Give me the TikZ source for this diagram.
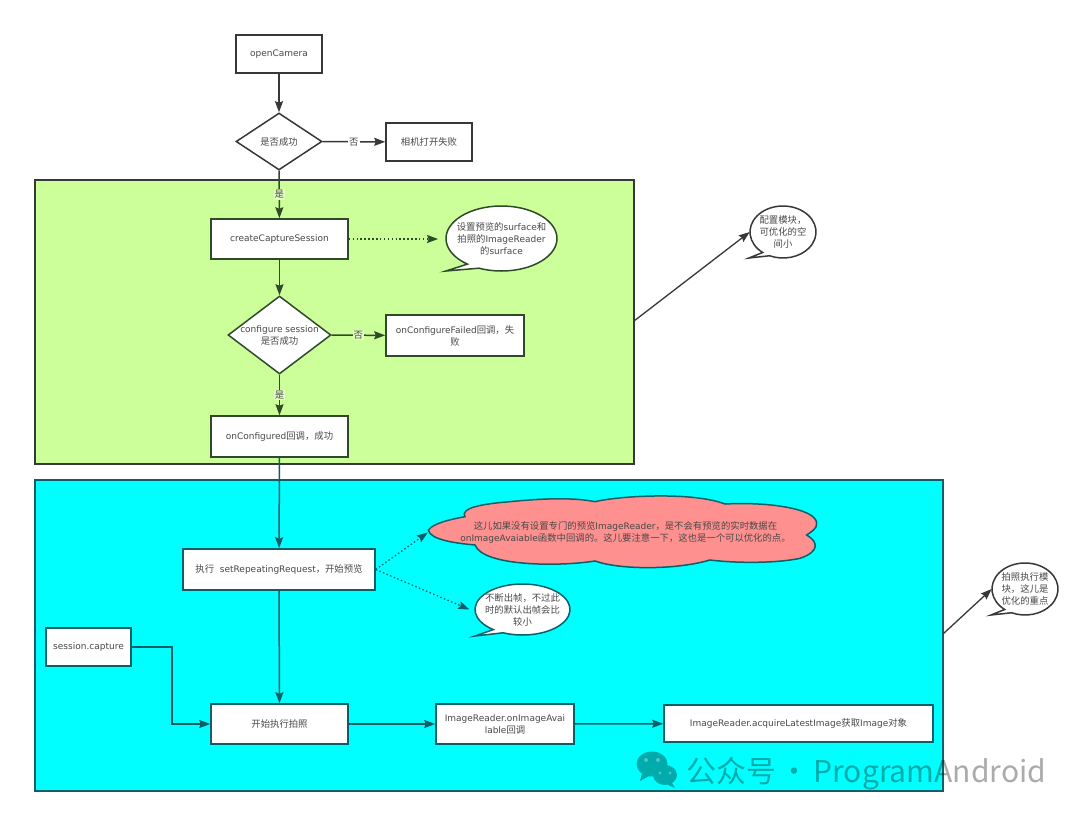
\documentclass[tikz,border=0pt]{standalone}
\usepackage{fontspec}
\setmainfont{DejaVu Sans}
\newfontfamily\cjk[Scale=1.04]{Noto Sans CJK SC}
\newfontfamily\wmfont{Noto Sans CJK SC}
\newcommand{\C}[1]{{\cjk #1}}
\usetikzlibrary{arrows.meta,shapes.geometric,calc}
\definecolor{txtc}{HTML}{484848}
\definecolor{greenzone}{HTML}{CCFF99}
\definecolor{cyanzone}{HTML}{00FFFF}
\definecolor{cloudc}{HTML}{FF9090}
\definecolor{lnw}{HTML}{383838}
\definecolor{lng}{HTML}{2F4A28}
\definecolor{lnc}{HTML}{0B5F68}
\tikzset{
  ln/.style={draw=#1,line width=1.5pt},
  ln/.default=lnw,
  zone/.style={ln=#1,line width=1.3pt},
  txt/.style={font=\fontsize{9}{12}\selectfont,text=txtc,align=center,inner sep=0pt},
  boxn/.style={txt,ln=#1,fill=white,rectangle},
  boxn/.default=lnw,
  dia/.style={ln=#1,fill=white,diamond,inner sep=0pt},
  arr/.style={ln=#1,-{Stealth[length=11pt,width=8pt,inset=1.5pt]}},
  arr/.default=lnw,
  dotarr/.style={arr=#1,line width=1.3pt,dash pattern=on 1.5pt off 2.4pt},
  elab/.style={txt,inner sep=1pt},
  wm/.style={text=black,text opacity=.33,inner sep=0pt,font=\wmfont\fontsize{30}{30}\selectfont}
}
% name, x1, y1, x2, y2, line colour, text
\newcommand{\bx}[7]{%
  \pgfmathsetmacro{\cxx}{(#2+#4)/2}\pgfmathsetmacro{\cyy}{(#3+#5)/2}%
  \pgfmathsetmacro{\www}{#4-#2}\pgfmathsetmacro{\hhh}{#5-#3}%
  \node[boxn=#6,minimum width=\www pt,minimum height=\hhh pt] (#1) at (\cxx,\cyy) {#7};}
% name, x1, y1, x2, y2, tip x, tip y, line colour, text
\newcommand{\bub}[9]{%
  \pgfmathsetmacro{\cxx}{(#2+#4)/2}\pgfmathsetmacro{\cyy}{(#3+#5)/2}%
  \pgfmathsetmacro{\rxx}{(#4-#2)/2}\pgfmathsetmacro{\ryy}{(#5-#3)/2}%
  \pgfmathsetmacro{\www}{#4-#2}\pgfmathsetmacro{\hhh}{#5-#3}%
  \draw[ln=#8,fill=white] (#6,#7) -- ($(\cxx,\cyy)+({\rxx*cos(232)},{-\ryy*sin(232)})$)
    arc[start angle=232,delta angle=-346,x radius=\rxx pt,y radius=\ryy pt] -- cycle;
  \node[txt,ellipse,minimum width=\www pt,minimum height=\hhh pt] (#1) at (\cxx,\cyy) {#9};}
\begin{document}
\begin{tikzpicture}[x=1pt,y=-1pt]
\useasboundingbox (0,0) rectangle (1080,814);
\fill[white] (0,0) rectangle (1080,814);

% zones
\node[zone=lnw,fill=greenzone,minimum width=599pt,minimum height=284pt,inner sep=0pt] (zoneA) at (334.5,322) {};
\node[zone=lnc,fill=cyanzone,minimum width=908pt,minimum height=311pt,inner sep=0pt] (zoneB) at (489,635.5) {};

% boxes
\bx{open}{236}{35}{322}{73}{lnw}{openCamera}
\node[dia=lnw,minimum width=86pt,minimum height=57pt,shape aspect=1.5] (d1) at (279,141.5) {};
\node[txt] (d1t) at (d1) {\C{是否成功}};
\bx{fail}{386}{123}{472}{161}{lnw}{\C{相机打开失败}}
\bx{create}{211}{219}{348}{259}{lng}{createCaptureSession}
\node[dia=lng,minimum width=103pt,minimum height=78pt,shape aspect=1.32] (d2) at (279.5,335) {};
\node[txt] (d2t) at (d2) {configure session\\\C{是否成功}};
\bx{cfail}{386}{315}{524}{356}{lng}{onConfigureFailed\C{回调，失}\\\C{败}}
\bx{conf}{211}{416}{348}{457}{lng}{onConfigured\C{回调，成功}}
\bx{rep}{183}{549}{375}{590}{lnc}{\C{执行}\ \ setRepeatingRequest\C{，开始预览}}
\bx{cap}{46}{628}{131}{666}{lnc}{session.capture}
\bx{shoot}{211}{704}{348}{744}{lnc}{\C{开始执行拍照}}
\bx{avail}{436}{704}{574}{744}{lnc}{ImageReader.onImageAvai\\lable\C{回调}}
\bx{acq}{664}{705}{933}{742}{lnc}{ImageReader.acquireLatestImage\C{获取}Image\C{对象}}

% bubbles
\bub{b1}{446}{206}{557}{271}{446}{271}{lng}{\C{设置预览的}surface\C{和}\\\C{拍照的}ImageReader\\\C{的}surface}
\bub{b2}{475}{584}{570}{635}{475}{636}{lnc}{\C{不断出帧，不过此}\\\C{时的默认出帧会比}\\\C{较小}}
\bub{b3}{750}{206}{816}{258}{749}{258}{lnw}{\C{配置模块，}\\\C{可优化的空}\\\C{间小}}
\bub{b4}{992}{563}{1058}{615}{991}{615}{lnw}{\C{拍照执行模}\\\C{块，这儿是}\\\C{优化的重点}}

% cloud
\begin{scope}[shift={(400,480)},x=0.3333pt,y=-0.3333pt]
\draw[ln=lnc,fill=cloudc]
  (85,150) .. controls (100,130) and (150,118) .. (195,110)
  .. controls (180,85) and (240,72) .. (330,65)
  .. controls (430,55) and (520,52) .. (585,65)
  .. controls (660,47) and (880,35) .. (975,72)
  .. controls (1100,65) and (1250,85) .. (1250,130)
  .. controls (1252,145) and (1235,155) .. (1220,165)
  .. controls (1255,185) and (1260,215) .. (1200,235)
  .. controls (1130,250) and (1010,250) .. (930,240)
  .. controls (830,270) and (660,270) .. (585,243)
  .. controls (480,260) and (250,260) .. (225,195)
  .. controls (170,190) and (90,180) .. (85,150) -- cycle;
\end{scope}
\node[txt,rectangle,minimum width=390pt,minimum height=20pt,font=\fontsize{9}{11.5}\selectfont] (cloud) at (623,532.5)
  {\hspace*{5pt}\C{这儿如果没有设置专门的预览}ImageReader\C{，是不会有预览的实时数据在}\\\hspace*{5pt}onImageAvaiable\C{函数中回调的。这儿要注意一下，这也是一个可以优化的点。}};

% connectors
\draw[arr] (open) -- (d1);
\draw[arr] (d1) -- node[elab,fill=white] (l1) {\C{否}} (fail);
\draw[arr=lng] (d1) -- node[elab,fill=greenzone!60!white] (l2) {\C{是}} (create);
\draw[arr=lng] (create) -- (d2);
\draw[arr=lng] (d2) -- node[elab,fill=greenzone!60!white] (l3) {\C{否}} (cfail);
\draw[arr=lng] (d2) -- node[elab,fill=greenzone!60!white] (l4) {\C{是}} (conf);
\draw[arr=lnc] (conf) -- (rep);
\draw[arr=lnc] (rep) -- (shoot);
\draw[arr=lnc] (cap.east) -- ++(40,0) |- (shoot.west);
\draw[arr=lnc] (shoot) -- (avail);
\draw[arr=lnc] (avail) -- (acq);
\draw[dotarr=lng] (create.east) -- (b1.west |- create.east);
\draw[dotarr=lnc] (rep.east) -- (cloud.west);
\draw[dotarr=lnc] (rep.east) -- (b2.west);
\coordinate (zaOut) at (634,321);
\coordinate (zbOut) at (943,634);
\draw[arr,line width=1.3pt] (zaOut) -- (b3.west);
\draw[arr,line width=1.3pt] (zbOut) -- (b4.west);

% watermark
\fill[black,opacity=.33] (652,764) ellipse[x radius=15.5pt,y radius=12.5pt] (665,775) ellipse[x radius=12pt,y radius=10pt]
  (642,773) -- (640,781) -- (649,776) -- cycle (672,783) -- (675,788) -- (668,785) -- cycle;
\fill[white,opacity=.3] (646,760) circle[radius=2pt] (658,760) circle[radius=2pt] (660,773) circle[radius=1.6pt] (670,773) circle[radius=1.6pt];
\node[wm,anchor=west] (wm1) at (686,774) {公众号\kern-3pt\ ·\kern-3pt\ ProgramAndroid};
\end{tikzpicture}
\end{document}
